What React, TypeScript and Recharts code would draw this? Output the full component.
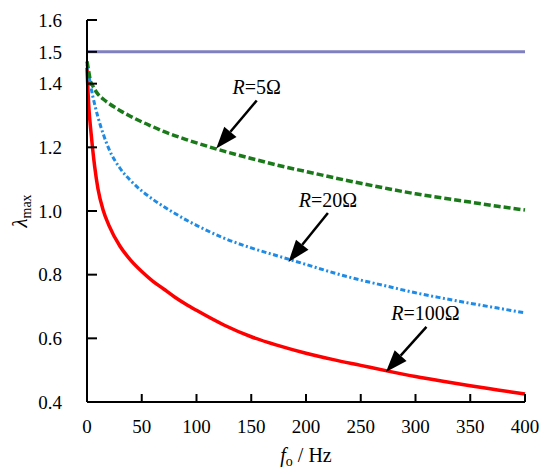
import React from 'react';
import {
  LineChart,
  Line,
  XAxis,
  YAxis,
  ReferenceLine,
  ReferenceDot,
  Label
} from 'recharts';

// frequency samples (Hz)
const freq = [0, 1, 2, 3, 5, 7, 10, 15, 20, 30, 40, 50, 60, 70, 80, 90, 100, 125, 150, 175, 200, 225, 250, 275, 300, 325, 350, 375, 400];
// lambda_max for each resistance
const r5 = [1.47, 1.45, 1.43, 1.41, 1.395, 1.382, 1.367, 1.351, 1.338, 1.316, 1.297, 1.28, 1.265, 1.25, 1.237, 1.225, 1.214, 1.188, 1.165, 1.143, 1.124, 1.105, 1.087, 1.07, 1.054, 1.041, 1.028, 1.015, 1.003];
const r20 = [1.46, 1.44, 1.42, 1.4, 1.365, 1.335, 1.295, 1.24, 1.195, 1.135, 1.095, 1.063, 1.037, 1.014, 0.993, 0.973, 0.955, 0.915, 0.884, 0.858, 0.832, 0.806, 0.783, 0.763, 0.743, 0.726, 0.71, 0.695, 0.68];
const r100 = [1.45, 1.37, 1.31, 1.27, 1.2, 1.14, 1.07, 1.0, 0.955, 0.89, 0.845, 0.81, 0.78, 0.755, 0.73, 0.708, 0.688, 0.642, 0.605, 0.577, 0.553, 0.533, 0.515, 0.497, 0.48, 0.465, 0.451, 0.438, 0.425];
const LIMIT = 1.5;

const xTicks = [0, 50, 100, 150, 200, 250, 300, 350, 400];
const yTicks = [0.4, 0.6, 0.8, 1.0, 1.2, 1.4, 1.5, 1.6];

// annotations (data units)
const noteValues = ['5Ω', '20Ω', '100Ω'];
const noteX = [155, 220, 309];
const noteY = [1.39, 1.035, 0.68];
const tailX = [155, 220, 310];
const tailY = [1.347, 0.994, 0.636];
const tipX = [118, 184, 273];
const tipY = [1.196, 0.84, 0.494];

const data = freq.map((f, i) => ({ f, r5: r5[i], r20: r20[i], r100: r100[i] }));

const FONT = "'Liberation Serif', 'Times New Roman', serif";

const Arrow = (props: any) => {
  const { x1, y1, x2, y2 } = props;
  const dx = x2 - x1;
  const dy = y2 - y1;
  const len = Math.sqrt(dx * dx + dy * dy) || 1;
  const ux = dx / len;
  const uy = dy / len;
  const headLen = 22;
  const headW = 8;
  const bx = x2 - ux * headLen;
  const by = y2 - uy * headLen;
  const pts = `${x2},${y2} ${bx - uy * headW},${by + ux * headW} ${bx + uy * headW},${by - ux * headW}`;
  return (
    <g>
      <line x1={x1} y1={y1} x2={bx} y2={by} stroke="#000" strokeWidth={2.5} />
      <polygon points={pts} fill="#000" />
    </g>
  );
};

const NoteText = (value: string) => (props: any) => {
  const { cx, cy } = props;
  return (
    <text x={cx} y={cy} textAnchor="middle" dominantBaseline="central" fontFamily={FONT} fontSize={20} fill="#000">
      <tspan fontStyle="italic">R</tspan>
      <tspan>={value}</tspan>
    </text>
  );
};

const YTitle = (props: any) => {
  const { viewBox } = props;
  const x = viewBox.x + 20;
  const y = viewBox.y + viewBox.height / 2;
  return (
    <text x={x} y={y} transform={`rotate(-90, ${x}, ${y})`} textAnchor="middle" dominantBaseline="central" fontFamily={FONT} fill="#000">
      <tspan fontSize={21} fontStyle="italic">λ</tspan>
      <tspan fontSize={14} dy={6}>max</tspan>
    </text>
  );
};

const XTitle = (props: any) => {
  const { viewBox } = props;
  const x = viewBox.x + viewBox.width / 2;
  const y = viewBox.y + 60;
  return (
    <text x={x} y={y} textAnchor="middle" fontFamily={FONT} fontSize={20} fill="#000">
      <tspan fontStyle="italic">f</tspan>
      <tspan fontSize={14} dy={4}>o</tspan>
      <tspan dy={-4}> / Hz</tspan>
    </text>
  );
};

const App: React.FC = () => {
  const tickStyle = { fontFamily: FONT, fontSize: 19, fill: '#000' };
  return (
    <div style={{ position: 'absolute', left: 0, top: 0, width: 550, height: 474, background: '#fff', fontFamily: FONT }}>
      <LineChart width={550} height={474} data={data} margin={{ top: 20, right: 25, bottom: 42, left: 0 }} style={{ fontFamily: FONT }}>
        <XAxis
          dataKey="f"
          type="number"
          domain={[0, 400]}
          ticks={xTicks}
          interval={0}
          height={30}
          tickSize={-8}
          tickMargin={26}
          stroke="#000"
          strokeWidth={2}
          tick={tickStyle}
          tickLine={{ stroke: '#000', strokeWidth: 2 }}
        >
          <Label content={<XTitle />} />
        </XAxis>
        <YAxis
          type="number"
          domain={[0.4, 1.6]}
          ticks={yTicks}
          interval={0}
          width={87}
          tickSize={-10}
          tickMargin={35}
          tickFormatter={(v: number) => v.toFixed(1)}
          stroke="#000"
          strokeWidth={2}
          tick={tickStyle}
          tickLine={{ stroke: '#000', strokeWidth: 2 }}
        >
          <Label content={<YTitle />} />
        </YAxis>
        <ReferenceLine y={LIMIT} stroke="#8080c0" strokeWidth={3} />
        <Line dataKey="r100" type="monotone" stroke="#ff0000" strokeWidth={3.5} dot={false} isAnimationActive={false} />
        <Line dataKey="r20" type="monotone" stroke="#1e8ce6" strokeWidth={3} strokeDasharray="5 2.5 2 2.5" dot={false} isAnimationActive={false} />
        <Line dataKey="r5" type="monotone" stroke="#1a7a1a" strokeWidth={3.5} strokeDasharray="7 3" dot={false} isAnimationActive={false} />
        {noteValues.map((v, i) => (
          <ReferenceLine
            key={`arrow-${i}`}
            segment={[{ x: tailX[i], y: tailY[i] }, { x: tipX[i], y: tipY[i] }]}
            shape={<Arrow />}
            ifOverflow="visible"
          />
        ))}
        {noteValues.map((v, i) => (
          <ReferenceDot
            key={`note-${i}`}
            x={noteX[i]}
            y={noteY[i]}
            r={0}
            shape={NoteText(v)}
            ifOverflow="visible"
          />
        ))}
      </LineChart>
    </div>
  );
};

export default App;
